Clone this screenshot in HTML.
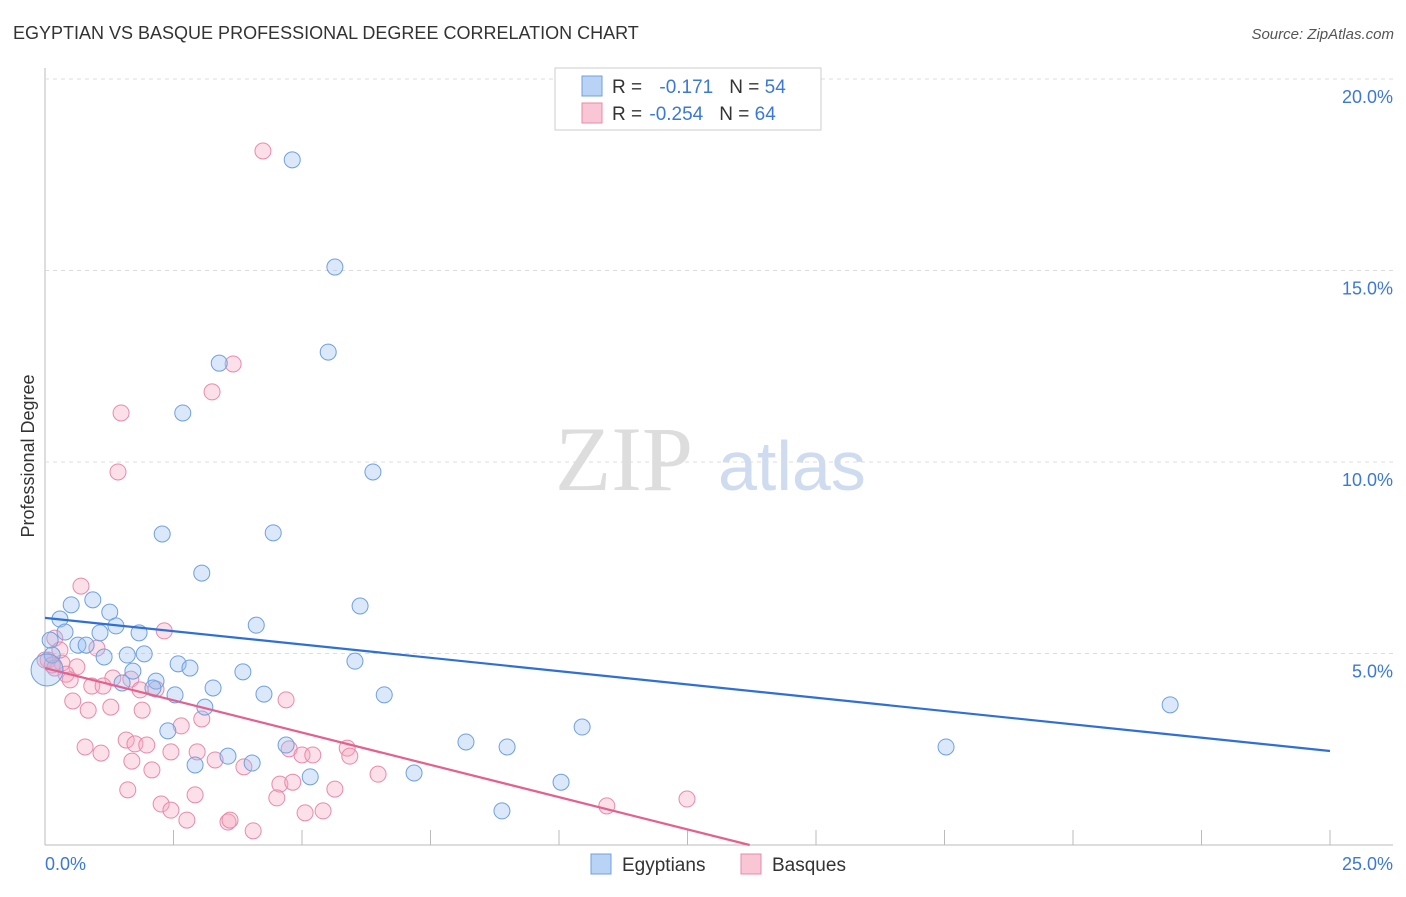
<!DOCTYPE html>
<html><head><meta charset="utf-8"><style>
body{margin:0;background:#fff;font-family:"Liberation Sans",sans-serif}
</style></head><body>
<svg id="chart" width="1406" height="892" xmlns="http://www.w3.org/2000/svg" style="font-family:'Liberation Sans',sans-serif">
<text x="13" y="39" font-size="18" fill="#333">EGYPTIAN VS BASQUE PROFESSIONAL DEGREE CORRELATION CHART</text>
<text x="1394" y="39" font-size="15" fill="#555" text-anchor="end" font-style="italic">Source: ZipAtlas.com</text>
<text x="555" y="490" font-size="92" fill="#ddd" font-family="Liberation Serif">ZIP</text>
<text x="718" y="490" font-size="70" fill="#cfdcf0">atlas</text>
<text transform="translate(34,456) rotate(-90)" font-size="18" fill="#333" text-anchor="middle">Professional Degree</text>
<g id="grid"></g><g id="pts"></g><g id="lines"></g>
<g>
<rect x="555" y="68" width="266" height="62" fill="#fff" stroke="#ccc"/>
<rect x="582" y="76" width="20" height="20" fill="#b8d3f5" stroke="#6fa0e0"/>
<rect x="582" y="103" width="20" height="20" fill="#f9c6d6" stroke="#e88aaa"/>
<text x="612" y="93" font-size="19" fill="#333">R = <tspan fill="#3b78d8" dx="12">-0.171</tspan><tspan dx="16" fill="#333">N = </tspan><tspan fill="#3b78d8">54</tspan></text>
<text x="612" y="120" font-size="19" fill="#333">R = <tspan fill="#3b78d8" dx="2">-0.254</tspan><tspan dx="16" fill="#333">N = </tspan><tspan fill="#3b78d8">64</tspan></text>
</g>
<g>
<rect x="591" y="854" width="20" height="20" fill="#b8d3f5" stroke="#6fa0e0"/>
<text x="622" y="871" font-size="19" fill="#333">Egyptians</text>
<rect x="741" y="854" width="20" height="20" fill="#f9c6d6" stroke="#e88aaa"/>
<text x="772" y="871" font-size="19" fill="#333">Basques</text>
</g>
<text x="45" y="870" font-size="18" fill="#3b78d8">0.0%</text>
<text x="1393" y="870" font-size="18" fill="#3b78d8" text-anchor="end">25.0%</text>
</svg>
<script>
const blueX=[4.81,5.64,5.51,3.39,2.68,6.38,2.28,4.44,3.05,6.13,4.11,0.93,0.51,1.26,0.29,1.38,0.39,1.07,1.83,0.64,0.80,1.60,1.93,1.15,0.10,0.14,2.59,2.82,3.85,6.03,1.71,1.50,2.16,2.10,3.27,2.53,4.26,6.60,3.11,10.45,2.39,8.19,8.99,4.69,17.53,3.56,4.03,2.92,5.16,7.18,10.04,8.89,21.89,0.04];
const blueY=[17.89,15.09,12.87,12.58,11.28,9.74,8.12,8.15,7.10,6.24,5.74,6.40,6.27,6.08,5.90,5.72,5.56,5.54,5.54,5.22,5.22,4.96,4.99,4.91,5.35,4.96,4.73,4.62,4.52,4.80,4.54,4.23,4.28,4.10,4.10,3.92,3.94,3.92,3.60,3.08,2.98,2.69,2.56,2.61,2.56,2.32,2.14,2.09,1.78,1.88,1.64,0.89,3.66,4.57];
const pinkX=[4.24,3.66,3.25,1.48,1.42,0.70,2.32,0.19,1.01,0.06,0.33,0.62,0.41,0.49,1.32,0.91,1.13,1.67,2.16,0.54,0.84,1.28,1.89,4.69,2.65,3.05,1.58,1.75,1.98,0.78,1.09,2.45,2.96,4.75,5.00,5.21,5.88,5.93,1.69,3.31,2.08,3.87,6.48,4.57,4.82,1.61,2.92,5.64,4.51,2.26,2.45,10.93,12.49,5.06,5.41,2.76,3.56,4.05,0,0.14,0.29,0.19,1.85,3.60];
const pinkY=[18.12,12.56,11.83,11.28,9.74,6.76,5.59,5.40,5.14,4.83,4.75,4.65,4.46,4.31,4.36,4.15,4.15,4.33,4.07,3.76,3.52,3.60,3.52,3.79,3.11,3.29,2.74,2.64,2.61,2.56,2.40,2.43,2.43,2.51,2.35,2.35,2.53,2.32,2.19,2.22,1.96,2.04,1.85,1.59,1.64,1.44,1.31,1.46,1.23,1.07,0.91,1.02,1.20,0.84,0.89,0.65,0.60,0.37,4.83,4.70,5.09,4.62,4.05,0.65];
const yTicks=[5,10,15,20];
const yTickLabels=["5.0%","10.0%","15.0%","20.0%"];
const xTicks=[0,2.5,5,7.5,10,12.5,15,17.5,20,22.5,25];
const blueTrend=[5.93,-0.139]; // intercept, slope
const pinkTrend=[4.62,-0.337];
const bigPointIndex=53;
const X=v=>45+v*51.4, Y=v=>845-v*38.3;
const NS="http://www.w3.org/2000/svg";
function mk(t,a,p){const e=document.createElementNS(NS,t);for(const k in a)e.setAttribute(k,a[k]);p.appendChild(e);return e;}
const grid=document.getElementById('grid');
mk('line',{x1:45,y1:68,x2:45,y2:845,stroke:'#bbb'},grid);
mk('line',{x1:45,y1:845,x2:1393,y2:845,stroke:'#bbb'},grid);
yTicks.forEach((t,i)=>{
 const l=mk('line',{x1:45,y1:Y(t),x2:1393,y2:Y(t),stroke:'#ddd','stroke-dasharray':'4,4'},grid);
 
 
 const tx=mk('text',{x:1393,y:Y(t)+24,'font-size':18,fill:'#3b78d8','text-anchor':'end'},grid);
 tx.textContent=yTickLabels[i];
 
 
});
xTicks.forEach(t=>{
 const l=mk('line',{x1:X(t),y1:830,x2:X(t),y2:845,stroke:'#bbb'},grid);
 
 
});
const pts=document.getElementById('pts');
pinkX.forEach((x,i)=>{
 const c=mk('circle',{cx:X(x),cy:Y(pinkY[i]),r:8,fill:'rgba(245,165,192,0.35)',stroke:'#e88aaa','stroke-width':1},pts);
 
 
});
blueX.forEach((x,i)=>{
 const c=mk('circle',{cx:X(x),cy:Y(blueY[i]),r:i===bigPointIndex?16:8,fill:'rgba(150,190,240,0.35)',stroke:'#6fa0e0','stroke-width':1},pts);
 
 
});
const lines=document.getElementById('lines');
const bl=mk('line',{x1:X(0),y1:Y(blueTrend[0]),x2:X(25),y2:Y(blueTrend[0]+25*blueTrend[1]),stroke:'#2f6fd6','stroke-width':2.2},lines);


const pend=-pinkTrend[0]/pinkTrend[1];
const pl=mk('line',{x1:X(0),y1:Y(pinkTrend[0]),x2:X(pend),y2:Y(0),stroke:'#e3608f','stroke-width':2.2},lines);


</script>
</body></html>
